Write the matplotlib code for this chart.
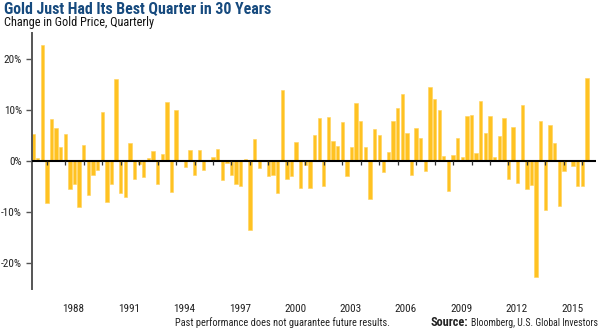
import matplotlib
matplotlib.use("Agg")
import matplotlib.pyplot as plt
import matplotlib.transforms as mtransforms
from matplotlib import font_manager as fm

years = list(range(1986, 2017))
label_years = [1988, 1991, 1994, 1997, 2000, 2003, 2006, 2009, 2012, 2015]
y_ticks = [20, 10, 0, -10, -20]
y_tick_labels = ["20%", "10%", "0%", "-10%", "-20%"]

# Quarterly change in gold price (%), 1986 Q1 .. 2016 Q1
changes = [
    5.3, 0.5, 22.7, -8.2,      # 1986
    8.2, 6.5, 2.8, 5.3,        # 1987
    -5.5, -4.4, -8.9, 3.2,     # 1988
    -6.6, -2.7, -1.8, 9.6,     # 1989
    -8.1, -4.4, 16.1, -6.2,    # 1990
    -7.0, 3.6, -3.6, -0.5,     # 1991
    -3.2, 0.6, 2.0, -4.4,      # 1992
    1.4, 11.6, -6.0, 10.0,     # 1993
    0.2, -1.2, 2.1, -2.8,      # 1994
    2.1, -1.8, 0.0, 0.8,       # 1995
    2.3, -3.8, -0.4, -2.8,     # 1996
    -4.4, -4.9, 0.3, -13.5,    # 1997
    4.2, -1.3, 0.0, -2.9,      # 1998
    -2.8, -6.2, 13.9, -3.6,    # 1999
    -3.0, 3.8, -5.2, -0.7,     # 2000
    -5.2, 5.1, 8.4, -4.8,      # 2001
    8.6, 4.0, 3.0, 7.6,        # 2002
    -2.9, 2.7, 11.4, 7.9,      # 2003
    2.7, -7.5, 6.3, 5.0,       # 2004
    -2.2, 1.75, 7.9, 10.3,     # 2005
    13.0, 5.5, -2.8, 6.5,      # 2006
    4.4, -2.0, 14.5, 12.2,     # 2007
    10.0, 1.0, -5.9, 1.2,      # 2008
    4.4, 0.85, 8.8, 9.0,       # 2009
    1.5, 11.65, 5.4, 8.7,      # 2010
    0.8, 4.8, 8.4, -3.5,       # 2011
    6.6, -4.2, 11.0, -5.4,     # 2012
    -4.6, -22.7, 7.8, -9.6,    # 2013
    7.0, 3.45, -8.85, -1.9,    # 2014
    0.0, -0.9, -4.9, -4.8,     # 2015
    16.3,                      # 2016 Q1
]

avail = {f.name for f in fm.fontManager.ttflist}


def pick(cands):
    for c in cands:
        if c in avail:
            return c
    return "DejaVu Sans"


FONT = pick(["Liberation Sans Narrow", "Roboto Condensed", "Open Sans Condensed", "Roboto", "Liberation Sans"])
plt.rcParams["font.family"] = [FONT, "DejaVu Sans"]

W, H = 600, 330
fig = plt.figure(figsize=(W / 100, H / 100), dpi=100)
fig.patch.set_facecolor("white")

ax_left, ax_right, ax_top, ax_bottom = 31.7, 595.7, 33, 289
ax = fig.add_axes([ax_left / W, 1 - ax_bottom / H, (ax_right - ax_left) / W, (ax_bottom - ax_top) / H])

xpos = list(range(len(changes)))
ax.bar(xpos, changes, width=0.72, color="#FFC222", edgecolor="#FFD25A", linewidth=0.4, zorder=2)
ax.axhline(0, color="black", linewidth=1.5, zorder=3)

ax.set_xlim(-0.28, 121.9)
ax.set_ylim(-25, 25)

for s in ["top", "right", "bottom"]:
    ax.spines[s].set_visible(False)
ax.spines["left"].set_color("#555555")
ax.spines["left"].set_linewidth(1.4)

ax.set_yticks(y_ticks)
ax.set_yticklabels(y_tick_labels)
ax.tick_params(axis="y", length=4, width=1, color="#555555", labelsize=8, pad=3)
ax.set_xticks([])
for lab in ax.get_yticklabels():
    lab.set_color("#222222")

# year ticks hanging from zero line
for yr in years[:-1]:
    k = (yr - 1986) * 4 + 3
    ax.plot([k, k], [0, -0.7], color="#333333", linewidth=0.9, zorder=4, solid_capstyle="butt")

trans = mtransforms.blended_transform_factory(ax.transData, fig.transFigure)
for yr in label_years:
    k = (yr - 1986) * 4 + 0.8
    ax.text(k, 1 - 309 / H, str(yr), transform=trans, ha="center", va="center", fontsize=8, color="#222222")

title = fig.text(4 / W, 1 - 8.5 / H, "Gold Just Had Its Best Quarter in 30 Years", fontsize=12, fontweight="bold",
                 color="#164a7e", ha="left", va="center")
subtitle = fig.text(4 / W, 1 - 22.5 / H, "Change in Gold Price, Quarterly", fontsize=8, color="#111111",
                    ha="left", va="center")
footer = fig.text(175 / W, 1 - 323 / H, "Past performance does not guarantee future results.", fontsize=7.2,
                  color="#222222", ha="left", va="center")
src_rest = fig.text(598 / W, 1 - 323 / H, "Bloomberg, U.S. Global Investors", fontsize=7.2, color="#222222",
                    ha="right", va="center")
src_bold = fig.text(428 / W, 1 - 323 / H, "Source:", fontsize=7.2, fontweight="bold", color="#222222",
                    ha="left", va="center")

fig.canvas.draw()
r = fig.canvas.get_renderer()


def fit(t, target):
    w = t.get_window_extent(r).width
    f = t.get_fontsize() * target / w
    t.set_fontsize(max(min(f, t.get_fontsize() * 1.25), t.get_fontsize() * 0.7))


fit(title, 269)
fit(subtitle, 150)
fit(footer, 213)
fit(src_rest, 126)
fit(src_bold, 38)
fig.canvas.draw()
bb = src_rest.get_window_extent(r)
src_bold.set_x((bb.x0 - 3) / W)
src_bold.set_ha("right")

fig.savefig("out.png", dpi=100, facecolor="white")
